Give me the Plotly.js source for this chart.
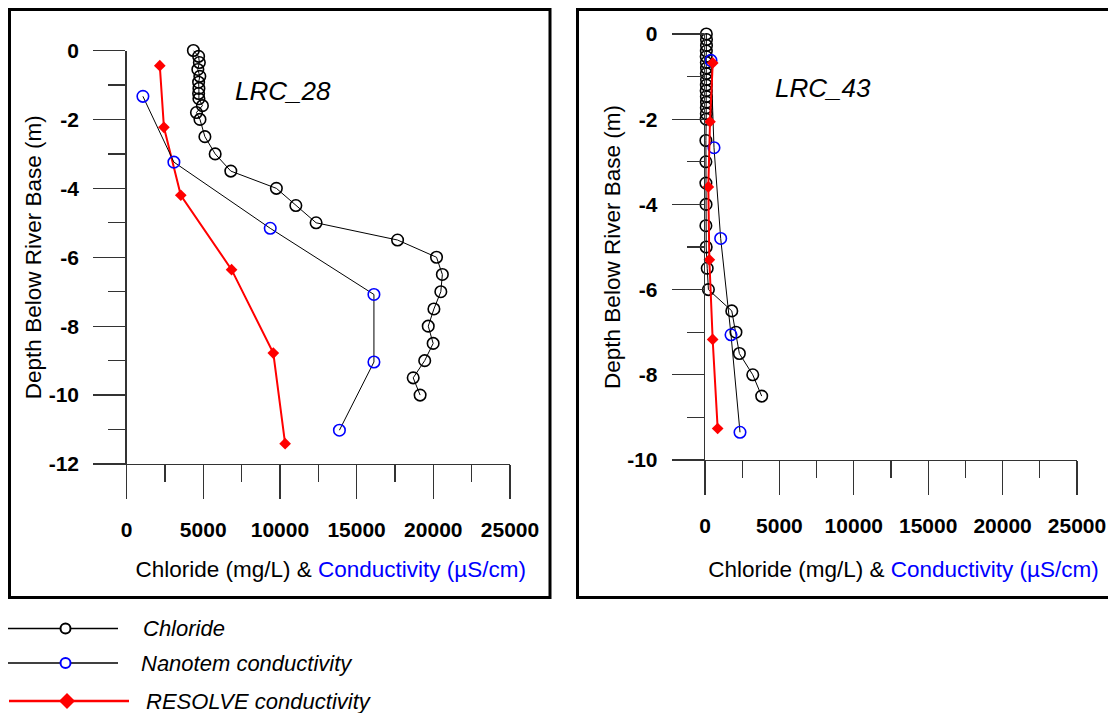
<!DOCTYPE html>
<html>
<head>
<meta charset="utf-8">
<script src="https://cdn.plot.ly/plotly-3.0.1.min.js"></script>
<style>html,body{margin:0;padding:0;background:#fff;}#chart{width:1108px;height:713px;}</style>
</head>
<body>
<div id="chart"></div>
<script>
// ---------- LRC_28 ----------
const depth28Chloride = [0, -0.17, -0.35, -0.55, -0.75, -0.92, -1.1, -1.25, -1.4, -1.6, -1.8, -2.0, -2.5, -3, -3.5, -4, -4.5, -5, -5.5, -6, -6.5, -7, -7.5, -8, -8.5, -9, -9.5, -10];
const chloride28 = [4360, 4700, 4750, 4650, 4780, 4700, 4720, 4700, 4720, 4950, 4560, 4790, 5110, 5780, 6800, 9770, 11040, 12360, 17670, 20210, 20590, 20490, 20040, 19670, 19990, 19440, 18690, 19140];
const depth28Nanotem = [-1.33, -3.24, -5.16, -7.08, -9.04, -11.02];
const nanotem28 = [1070, 3090, 9370, 16130, 16130, 13880];
const depth28Resolve = [-0.44, -2.23, -4.2, -6.36, -8.78, -11.41];
const resolve28 = [2170, 2440, 3540, 6850, 9570, 10340];

// ---------- LRC_43 ----------
const depth43Chloride = [0, -0.13, -0.27, -0.4, -0.53, -0.67, -0.8, -0.93, -1.07, -1.2, -1.33, -1.47, -1.6, -1.73, -1.87, -2.0, -2.5, -3, -3.5, -4, -4.5, -5, -5.5, -6, -6.5, -7, -7.5, -8, -8.5];
const chloride43 = [90, 100, 100, 90, 80, 90, 100, 90, 100, 90, 80, 90, 100, 90, 90, 80, 60, 60, 60, 70, 60, 80, 150, 230, 1800, 2080, 2310, 3210, 3810];
const depth43Nanotem = [-0.62, -2.67, -4.8, -7.06, -9.35];
const nanotem43 = [400, 605, 1054, 1748, 2352];
const depth43Resolve = [-0.68, -2.06, -3.59, -5.3, -7.17, -9.26];
const resolve43 = [520, 336, 224, 291, 515, 851];

// ---------- ticks & labels ----------
const xTickVals = [0, 5000, 10000, 15000, 20000, 25000];
const xTickText = ['0', '5000', '10000', '15000', '20000', '25000'];
const yTickVals28 = [0, -2, -4, -6, -8, -10, -12];
const yTickText28 = ['0', '-2', '-4', '-6', '-8', '-10', '-12'];
const yTickVals43 = [0, -2, -4, -6, -8, -10];
const yTickText43 = ['0', '-2', '-4', '-6', '-8', '-10'];

const panelNames = ['LRC_28', 'LRC_43'];
const seriesNames = ['Chloride', 'Nanotem conductivity', 'RESOLVE conductivity'];
const xTitle = '&nbsp;&nbsp;&nbsp;&nbsp;Chloride (mg/L) &amp; <span style="color:#0000ff">Conductivity (µS/cm)</span>';
const yTitle = 'Depth Below River Base (m)';

const FONT = 'Liberation Sans, Arial, sans-serif';
const W = 1108, H = 713;
const px = v => v / W;
const py = v => 1 - v / H;
const bold = arr => arr.map(s => '<b>' + s + '</b>');

function clTrace(x, y, xa, ya) {
  return {x, y, xaxis: xa, yaxis: ya, type: 'scatter', mode: 'lines+markers', name: seriesNames[0],
    line: {color: '#000', width: 1}, cliponaxis: false, showlegend: false,
    marker: {symbol: 'circle-open', size: 11.5, color: '#000', line: {color: '#000', width: 1.6}}};
}
function nanoTrace(x, y, xa, ya) {
  return {x, y, xaxis: xa, yaxis: ya, type: 'scatter', mode: 'lines+markers', name: seriesNames[1],
    line: {color: '#000', width: 1}, cliponaxis: false, showlegend: false,
    marker: {symbol: 'circle-open', size: 11.5, color: '#0000ff', line: {color: '#0000ff', width: 1.6}}};
}
function resTrace(x, y, xa, ya) {
  return {x, y, xaxis: xa, yaxis: ya, type: 'scatter', mode: 'lines+markers', name: seriesNames[2],
    line: {color: '#ff0000', width: 2}, cliponaxis: false, showlegend: false,
    marker: {symbol: 'diamond', size: 9, color: '#ff0000'}};
}

const data = [
  resTrace(resolve28, depth28Resolve, 'x', 'y'),
  nanoTrace(nanotem28, depth28Nanotem, 'x', 'y'),
  clTrace(chloride28, depth28Chloride, 'x', 'y'),
  clTrace(chloride43, depth43Chloride, 'x2', 'y2'),
  nanoTrace(nanotem43, depth43Nanotem, 'x2', 'y2'),
  resTrace(resolve43, depth43Resolve, 'x2', 'y2')
];

const tickFont = {family: FONT, size: 21, color: '#000', weight: 700};
const titleFont = {family: FONT, size: 22.5, color: '#000'};

function xAxis(domain, anchor, standoff) {
  return {domain, anchor, range: [0, 25000], tickmode: 'array', tickvals: xTickVals, ticktext: bold(xTickText),
    ticks: 'outside', ticklen: 34,
    tickwidth: 1.3, tickcolor: '#333', showline: true, linecolor: '#333', linewidth: 1.3,
    showgrid: false, zeroline: false, tickfont: tickFont, ticklabelstandoff: 12,
    minor: {tickmode: 'linear', tick0: 0, dtick: 2500, ticks: 'outside', ticklen: 17, tickwidth: 1.3, tickcolor: '#333', showgrid: false},
    title: {text: xTitle, font: titleFont, standoff}, fixedrange: true};
}
function yAxis(domain, anchor, lo, vals, text) {
  return {domain, anchor, range: [lo, 0], tickmode: 'array', tickvals: vals, ticktext: bold(text),
    ticks: 'outside', ticklen: 32,
    tickwidth: 1.3, tickcolor: '#333', showline: true, linecolor: '#333', linewidth: 1.3,
    showgrid: false, zeroline: false, tickfont: tickFont, ticklabelstandoff: 10,
    minor: {tickmode: 'linear', tick0: 0, dtick: 1, ticks: 'outside', ticklen: 17, tickwidth: 1.3, tickcolor: '#333', showgrid: false},
    title: {text: yTitle, font: titleFont, standoff: 0}, fixedrange: true};
}

const shapes = [
  {type: 'rect', xref: 'paper', yref: 'paper', x0: px(9.5), x1: px(550), y0: py(9.5), y1: py(597.5), line: {color: '#000', width: 3}},
  {type: 'rect', xref: 'paper', yref: 'paper', x0: px(577.5), x1: px(1112), y0: py(9.5), y1: py(597.5), line: {color: '#000', width: 3}}
];

// Legend (drawn beneath the panels)
const legendRows = [
  {y: 628.5, x0: 8, x1: 118, cx: 65.5, color: '#000', mcolor: '#000', kind: 'circle', lw: 1.3, tx: 141},
  {y: 663, x0: 8, x1: 118, cx: 65.5, color: '#000', mcolor: '#0000ff', kind: 'circle', lw: 1.3, tx: 139},
  {y: 701, x0: 9, x1: 129, cx: 67, color: '#ff0000', mcolor: '#ff0000', kind: 'diamond', lw: 2.5, tx: 144}
];
const annotations = [
  {text: panelNames[0], xref: 'paper', yref: 'paper', x: px(282.5), y: py(91), xanchor: 'center', yanchor: 'middle', showarrow: false,
    font: {family: FONT, size: 26, style: 'italic', color: '#000'}},
  {text: panelNames[1], xref: 'paper', yref: 'paper', x: px(822.5), y: py(88), xanchor: 'center', yanchor: 'middle', showarrow: false,
    font: {family: FONT, size: 26, style: 'italic', color: '#000'}}
];
legendRows.forEach((r, i) => {
  shapes.push({type: 'line', xref: 'paper', yref: 'paper', x0: px(r.x0), x1: px(r.x1), y0: py(r.y), y1: py(r.y),
    line: {color: r.color, width: r.lw}});
  if (r.kind === 'circle') {
    shapes.push({type: 'circle', xref: 'paper', yref: 'paper', xsizemode: 'pixel', ysizemode: 'pixel',
      xanchor: px(r.cx), yanchor: py(r.y), x0: -5, x1: 5, y0: -5, y1: 5,
      fillcolor: '#fff', line: {color: r.mcolor, width: 2}});
  } else {
    shapes.push({type: 'path', xref: 'paper', yref: 'paper', xsizemode: 'pixel', ysizemode: 'pixel',
      xanchor: px(r.cx), yanchor: py(r.y), path: 'M -8 0 L 0 8 L 8 0 L 0 -8 Z',
      fillcolor: r.mcolor, line: {color: r.mcolor, width: 0}});
  }
  annotations.push({text: seriesNames[i], xref: 'paper', yref: 'paper', x: px(r.tx), y: py(r.y),
    xanchor: 'left', yanchor: 'middle', showarrow: false,
    font: {family: FONT, size: 22, style: 'italic', color: '#000'}});
});

const layout = {
  width: W, height: H, margin: {l: 0, r: 0, t: 0, b: 0},
  paper_bgcolor: '#fff', plot_bgcolor: 'rgba(0,0,0,0)', showlegend: false,
  xaxis: xAxis([px(126.5), px(510)], 'y', 21),
  yaxis: yAxis([py(464), py(50.5)], 'x', -12, yTickVals28, yTickText28),
  xaxis2: xAxis([px(705), px(1077)], 'y2', 25),
  yaxis2: yAxis([py(460), py(34)], 'x2', -10, yTickVals43, yTickText43),
  shapes, annotations
};

Plotly.newPlot('chart', data, layout, {staticPlot: true, displayModeBar: false});
</script>
</body>
</html>
